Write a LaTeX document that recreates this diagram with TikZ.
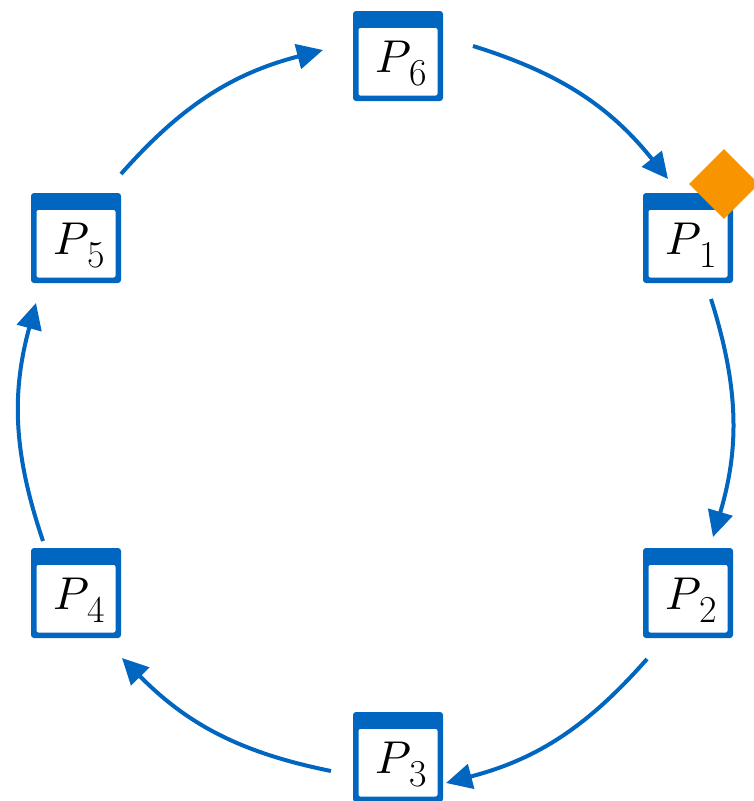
\documentclass[tikz,border=0pt]{standalone}
\usepackage{unicode-math}
\usetikzlibrary{arrows.meta,shapes.geometric}
\definecolor{pblue}{RGB}{0,102,192}
\definecolor{porange}{RGB}{247,148,0}
\newcommand{\plabel}[1]{{\fontsize{46}{46}\selectfont$P$}\kern-1.5pt{\fontsize{38}{38}\selectfont\raisebox{-13pt}{#1}}}
\tikzset{
  procbox/.style={rectangle, minimum width=90pt, minimum height=90pt, inner sep=0pt,
    fill=pblue, rounded corners=3pt,
    path picture={\fill[white, rounded corners=2pt]
      ([xshift=5.5pt,yshift=5.5pt]path picture bounding box.south west) rectangle
      ([xshift=-5.5pt,yshift=-17pt]path picture bounding box.north east);}},
  proclabel/.style={anchor=base, inner sep=0pt},
  ring/.style={draw=pblue, line width=4pt, -{Triangle[length=26pt,width=25pt]}, bend left=17},
  token/.style={diamond, fill=porange, inner sep=0pt, minimum width=70pt, minimum height=70pt}
}
\begin{document}
\begin{tikzpicture}[x=1pt,y=-1pt]
\useasboundingbox (0,0) rectangle (753,801);
% boxes
\node[procbox] (b6) at (398,56) {};
\node[procbox] (b1) at (688,238) {};
\node[procbox] (b2) at (688,593) {};
\node[procbox] (b3) at (398,757) {};
\node[procbox] (b4) at (76,593) {};
\node[procbox] (b5) at (76,238) {};
% labels
\node[proclabel] (l6) at ([xshift=3pt,yshift=-16pt]b6.center) {\plabel{6}};
\node[proclabel] (l1) at ([xshift=3pt,yshift=-16pt]b1.center) {\plabel{1}};
\node[proclabel] (l2) at ([xshift=3pt,yshift=-16pt]b2.center) {\plabel{2}};
\node[proclabel] (l3) at ([xshift=3pt,yshift=-16pt]b3.center) {\plabel{3}};
\node[proclabel] (l4) at ([xshift=3pt,yshift=-16pt]b4.center) {\plabel{4}};
\node[proclabel] (l5) at ([xshift=3pt,yshift=-16pt]b5.center) {\plabel{5}};
% token
\node[token] (tok) at (724,184) {};
% arrow end points
\coordinate (s61) at (473,46);  \coordinate (e61) at (668,179);
\coordinate (s12) at (711,299); \coordinate (e12) at (713,537);
\coordinate (s23) at (647,659); \coordinate (e23) at (446,783);
\coordinate (s34) at (331,771); \coordinate (e34) at (122,658);
\coordinate (s45) at (43,541);  \coordinate (e45) at (36,303);
\coordinate (s56) at (121,174); \coordinate (e56) at (323,50);
\draw[ring] (s61) to (e61);
\draw[ring] (s12) to (e12);
\draw[ring] (s23) to (e23);
\draw[ring] (s34) to (e34);
\draw[ring] (s45) to (e45);
\draw[ring] (s56) to (e56);
\end{tikzpicture}
\end{document}
